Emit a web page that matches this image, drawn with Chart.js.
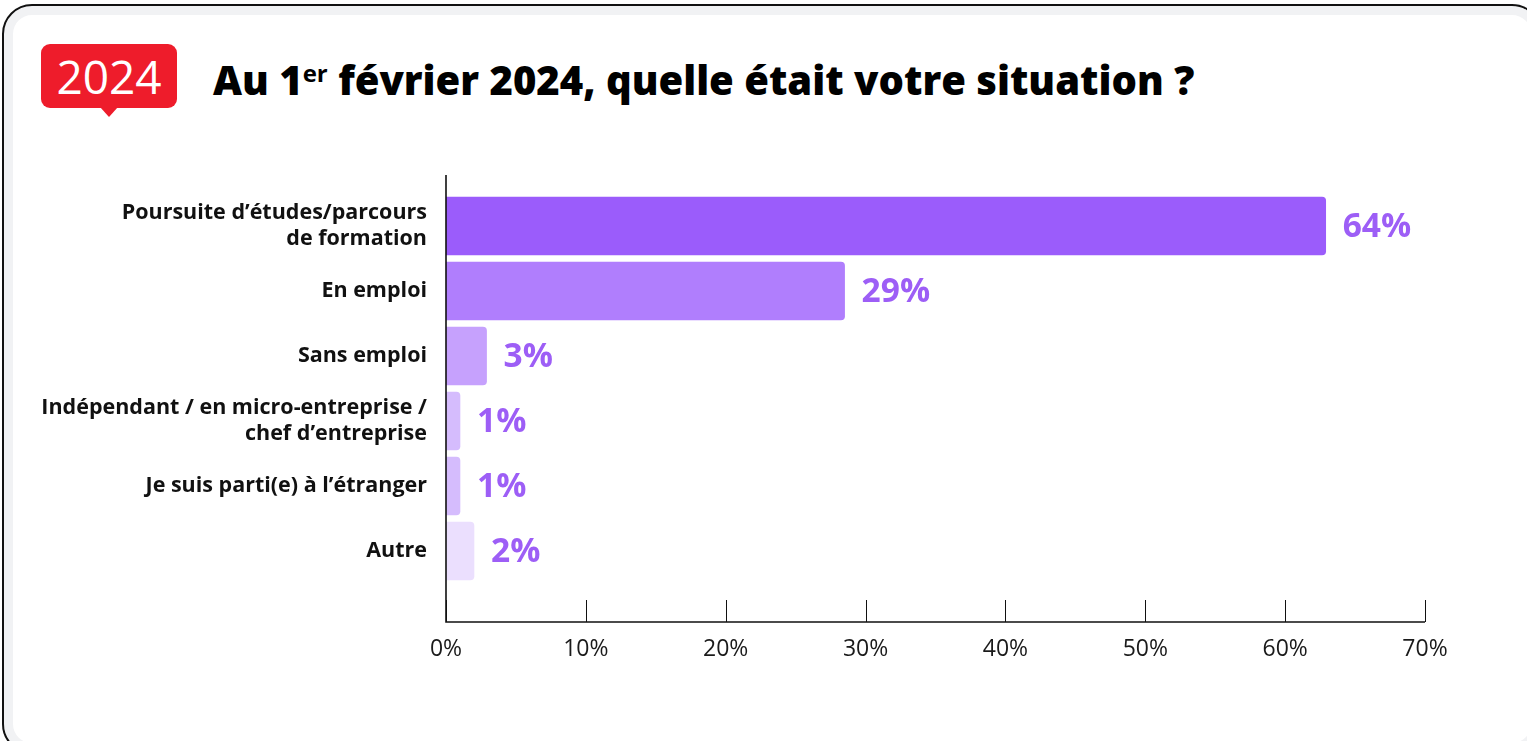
<!DOCTYPE html>
<html lang="fr">
<head>
<meta charset="utf-8">
<script src="https://cdn.jsdelivr.net/npm/chart.js@4"></script>
<style>
  html, body { margin: 0; padding: 0; background: #fff; }
  body { width: 1527px; height: 741px; position: relative; overflow: hidden; font-family: "Open Sans", "Noto Sans", sans-serif; }
  .card {
    position: absolute; left: 2px; top: 4px; width: 1540px; height: 750px;
    box-sizing: border-box; border: 2px solid #111; border-radius: 30px;
    box-shadow: inset 0 0 0 9px #f1f2f4;
  }
  .badge {
    position: absolute; left: 41px; top: 44px; width: 136px; height: 64px;
    background: #ee1c2b; border-radius: 9px; color: #fff;
    font: 400 46px "Open Sans", sans-serif; line-height: 64px; text-align: center;
  }
  .badge:after {
    content: ""; position: absolute; left: 59px; top: 63px;
    border-left: 9px solid transparent; border-right: 9px solid transparent; border-top: 10px solid #ee1c2b;
  }
  .title {
    position: absolute; left: 213px; top: 52px; white-space: nowrap;
    font: 800 40px "Open Sans", sans-serif; color: #000; line-height: 56px;
  }
  .title sup { font-size: 24px; vertical-align: 0; position: relative; top: -13px; font-weight: 700; }
  #wrap { position: absolute; left: 0; top: 0; width: 1527px; height: 741px; }
</style>
</head>
<body>
<div class="card"></div>
<div class="badge">2024</div>
<div class="title">Au 1<sup>er</sup> février 2024, quelle était votre situation ?</div>
<div id="wrap"><canvas id="myChart"></canvas></div>
<script>
var categories = [
  ['Poursuite d\u2019études/parcours', 'de formation'],
  'En emploi',
  'Sans emploi',
  ['Indépendant / en micro-entreprise /', 'chef d\u2019entreprise'],
  'Je suis parti(e) à l\u2019étranger',
  'Autre'
];
var values = [62.9, 28.5, 2.9, 1.0, 1.0, 2.0];
var valueLabels = ['64%', '29%', '3%', '1%', '1%', '2%'];
var barColors = ['#9b5cfb', '#b07efd', '#c6a1fd', '#d5bcfd', '#d5bcfd', '#ebdffe'];
var xTicks = [0, 10, 20, 30, 40, 50, 60, 70];

// axis lines with inward tick marks, placed from the x scale
var axisLines = {
  id: 'axisLines',
  afterDraw: function (chart) {
    var c = chart.ctx, a = chart.chartArea, x = chart.scales.x;
    var axisY = a.bottom + 38.5;
    c.save();
    c.strokeStyle = '#111';
    c.lineWidth = 1.6;
    c.beginPath();
    c.moveTo(a.left, a.top - 18.5);
    c.lineTo(a.left, axisY);
    c.lineTo(x.getPixelForValue(70), axisY);
    c.stroke();
    c.lineWidth = 1;
    c.beginPath();
    xTicks.forEach(function (t) {
      var px = Math.round(x.getPixelForValue(t)) + 0.5;
      c.moveTo(px, axisY);
      c.lineTo(px, axisY - 22);
    });
    c.stroke();
    c.restore();
  }
};

var barLabels = {
  id: 'barLabels',
  afterDatasetsDraw: function (chart) {
    var c = chart.ctx;
    var meta = chart.getDatasetMeta(0);
    c.save();
    c.font = '700 33.5px "Open Sans", sans-serif';
    c.fillStyle = '#9d5ef6';
    c.textAlign = 'left';
    c.textBaseline = 'middle';
    meta.data.forEach(function (bar, i) {
      c.fillText(valueLabels[i], bar.x + 17, bar.y + 1);
    });
    c.restore();
  }
};

var ctx = document.getElementById('myChart').getContext('2d');
var myChart = new Chart(ctx, {
  type: 'bar',
  data: {
    labels: categories,
    datasets: [{
      data: values,
      backgroundColor: barColors,
      borderRadius: 4,
      borderSkipped: 'left',
      barThickness: 58
    }]
  },
  options: {
    indexAxis: 'y',
    responsive: true,
    maintainAspectRatio: false,
    animation: false,
    layout: { padding: { top: 193.5, right: 102, bottom: 0, left: 0 } },
    plugins: {
      legend: { display: false },
      tooltip: { enabled: false }
    },
    scales: {
      x: {
        min: 0,
        max: 70,
        afterFit: function (s) { s.height = 741 - 583.5; },
        afterBuildTicks: function (s) { s.ticks = xTicks.map(function (v) { return { value: v }; }); },
        grid: { display: false, drawTicks: false },
        border: { display: false },
        ticks: {
          padding: 52,
          color: '#1a1a1a',
          font: { family: 'Open Sans', size: 23 },
          maxRotation: 0,
          callback: function (v) { return v + '%'; }
        }
      },
      y: {
        afterFit: function (s) { s.width = 446; },
        grid: { display: false, drawTicks: false },
        border: { display: false },
        ticks: {
          padding: 19,
          color: '#111',
          font: { family: 'Open Sans', size: 21.5, weight: '700', lineHeight: 1.21 }
        }
      }
    }
  },
  plugins: [axisLines, barLabels]
});
</script>
</body>
</html>
